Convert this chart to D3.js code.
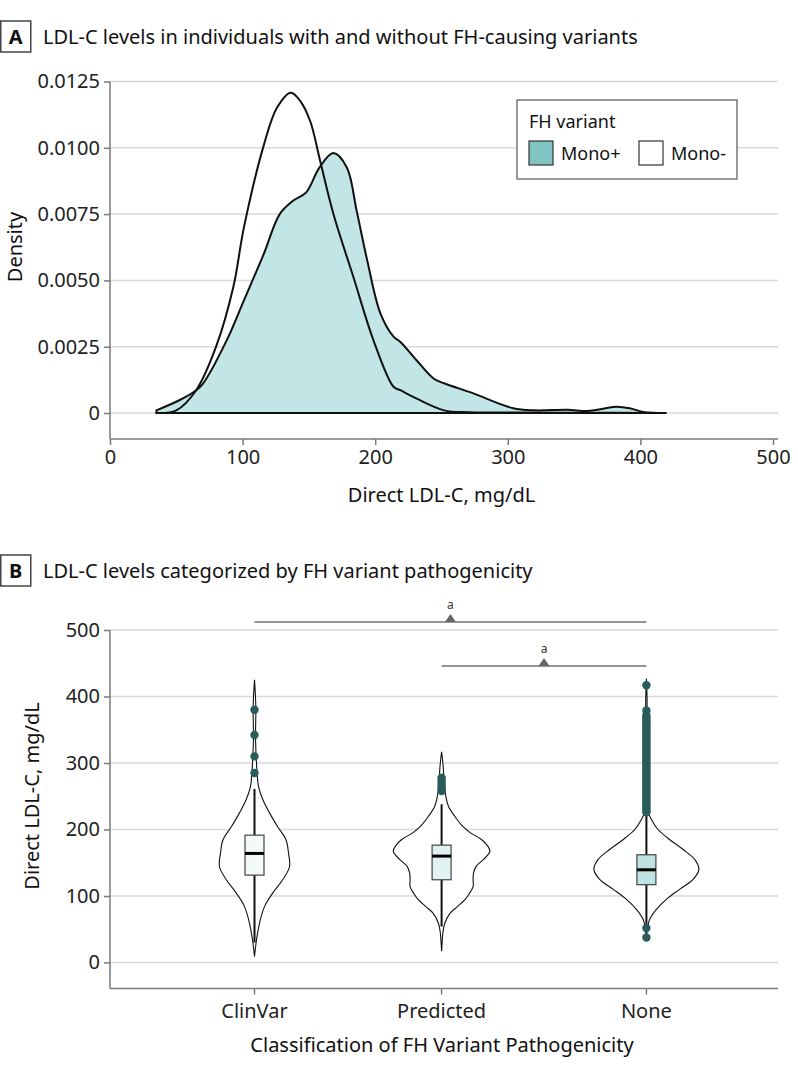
<!DOCTYPE html>
<html>
<head>
<meta charset="utf-8">
<script src="https://cdn.jsdelivr.net/npm/d3@7"></script>
<style>
  html, body { margin: 0; padding: 0; background: #fff; }
  svg { display: block; font-family: "Noto Sans", sans-serif; }
</style>
</head>
<body>
<svg id="chart" width="798" height="1074"></svg>
<script>
// ---------------- DATA ----------------
// Panel A: density curves (Direct LDL-C mg/dL, density)
const monoPlusX = [35, 53, 65, 70, 88, 101, 116, 128, 138, 148, 158, 168.5, 178.6, 186, 194, 204, 214, 219, 231, 244, 252, 274, 304, 320, 345, 360, 372, 382, 392, 402, 419];
const monoPlusD = [0.0001, 0.0005, 0.00086, 0.0011, 0.00274, 0.00425, 0.0060, 0.0075, 0.0080, 0.00832, 0.00926, 0.0098, 0.00926, 0.00763, 0.00575, 0.00375, 0.00287, 0.00268, 0.0020, 0.0013, 0.00112, 0.00074, 0.00018, 0.0001, 0.00012, 0.00008, 0.00016, 0.00024, 0.00018, 0.00004, 0];
const monoMinusX = [35, 50, 65, 80, 93, 101, 116, 126, 136.4, 143.4, 151, 158.5, 168.5, 183.6, 198.7, 213.8, 219, 231, 252, 270, 300, 350, 419];
const monoMinusD = [0, 0.0001, 0.00086, 0.0025, 0.00475, 0.0070, 0.0101, 0.01152, 0.01208, 0.01177, 0.0110, 0.0095, 0.0075, 0.00512, 0.00274, 0.00099, 0.00086, 0.00055, 0.0001, 0.00003, 0.00002, 0.00001, 0];
const densityTicks = [0, 0.0025, 0.005, 0.0075, 0.01, 0.0125];
const densityTickLabels = ["0", "0.0025", "0.0050", "0.0075", "0.0100", "0.0125"];
const ldlTicksA = [0, 100, 200, 300, 400, 500];
const legendTitle = "FH variant";
const legendLabels = ["Mono+", "Mono-"];

// Panel B: violins
const categories = ["ClinVar", "Predicted", "None"];
// violin profiles: [LDL-C value, relative density]
const violinClinVar = [[425,0],[385,0.025],[335,0.02],[285,0.05],[265,0.076],[245,0.158],[225,0.286],[204.5,0.438],[184.5,0.60],[164.5,0.648],[144,0.667],[124,0.533],[104,0.343],[84,0.19],[59,0.095],[34,0.038],[9,0]];
const violinPredicted = [[317,0],[295,0.03],[270,0.05],[250,0.08],[235,0.13],[220,0.25],[205,0.40],[195,0.55],[185,0.76],[175,0.88],[167,0.92],[155,0.80],[145,0.66],[135,0.61],[125,0.60],[114,0.60],[104,0.53],[94,0.44],[84,0.30],[74,0.16],[59,0.06],[45,0.025],[30,0.01],[17,0]];
const violinNone = [[427,0],[400,0.012],[300,0.015],[240,0.02],[225,0.04],[215,0.095],[200,0.22],[185,0.44],[170,0.70],[155,0.92],[140,1.0],[125,0.89],[110,0.63],[95,0.38],[80,0.19],[65,0.063],[55,0.03],[45,0.01],[34,0]];
// box stats: [whiskerLow, q1, median, q3, whiskerHigh]
const boxClinVar = [30, 131.4, 164, 191.5, 261];
const boxPredicted = [54, 124.4, 160, 176.5, 238];
const boxNone = [54, 117, 139.4, 162, 225];
const outClinVar = [380, 342, 310, 285];
const outPredicted = [258, 262, 266, 270, 274, 278];
const outNone = [417, 379, 372, 369, 366, 363, 360, 357, 354, 351, 348, 345, 342, 339, 336, 333, 330, 327, 324, 321, 318, 315, 312, 309, 306, 303, 300, 297, 294, 291, 288, 285, 282, 279, 276, 273, 270, 267, 264, 261, 258, 255, 252, 249, 246, 243, 240, 237, 234, 231, 228, 226, 51.7, 37.6];
const ldlTicksB = [0, 100, 200, 300, 400, 500];
const boxFills = ["#f2f9f9", "#e2f1f1", "#bfe3e3"];
// significance comparisons: [from, to]
const comparisons = [["ClinVar", "None"], ["Predicted", "None"]];
const compLevels = [512, 446];

// ---------------- DRAW ----------------
const svg = d3.select("#chart");
const FONT = 20;
const axisColor = "#7a7a7a";
const gridColor = "#d9d9d9";

function panelLabel(letter, y, text) {
  svg.append("rect").attr("x", 0.75).attr("y", y).attr("width", 30).attr("height", 31)
    .attr("fill", "#fff").attr("stroke", "#444").attr("stroke-width", 1.5);
  svg.append("text").attr("x", 15.75).attr("y", y + 23).attr("text-anchor", "middle")
    .attr("font-weight", "bold").attr("font-size", 20).attr("fill", "#111").text(letter);
  svg.append("text").attr("x", 43).attr("y", y + 23.3).attr("font-size", FONT)
    .attr("fill", "#111").text(text);
}

// ----- Panel A -----
panelLabel("A", 21, "LDL-C levels in individuals with and without FH-causing variants");

const xA = d3.scaleLinear().domain([0, 500]).range([110, 773]);
const yA = d3.scaleLinear().domain([0, 0.0125]).range([413, 81.5]);
const gridRight = 778;

svg.append("g").selectAll("line").data(densityTicks).join("line")
  .attr("x1", 110).attr("x2", gridRight)
  .attr("y1", d => yA(d)).attr("y2", d => yA(d))
  .attr("stroke", gridColor).attr("stroke-width", 1.5);

const yAxisA = d3.axisLeft(yA).tickValues(densityTicks)
  .tickFormat((d, i) => densityTickLabels[i]).tickSize(6).tickPadding(4);
const gyA = svg.append("g").attr("transform", "translate(110,0)").call(yAxisA);
gyA.select(".domain").remove();
gyA.append("line").attr("x1", 0).attr("x2", 0).attr("y1", yA(0.0125)).attr("y2", 439)
  .attr("stroke", axisColor).attr("stroke-width", 1.5);
const xAxisA = d3.axisBottom(xA).tickValues(ldlTicksA).tickSize(6).tickPadding(5);
const gxA = svg.append("g").attr("transform", "translate(0,439)").call(xAxisA);
gxA.select(".domain").remove();
gxA.append("line").attr("x1", 110).attr("x2", gridRight).attr("y1", 0).attr("y2", 0)
  .attr("stroke", axisColor).attr("stroke-width", 1.5);

[gyA, gxA].forEach(g => {
  g.selectAll(".tick line").attr("stroke", axisColor).attr("stroke-width", 1.5);
  g.selectAll(".tick text").attr("font-size", FONT).attr("fill", "#222")
    .attr("font-family", "Noto Sans, sans-serif");
});

svg.append("text").attr("transform", "translate(22,247) rotate(-90)")
  .attr("text-anchor", "middle").attr("font-size", FONT).attr("fill", "#111").text("Density");
svg.append("text").attr("x", 441.5).attr("y", 502).attr("text-anchor", "middle")
  .attr("font-size", FONT).attr("fill", "#111").text("Direct LDL-C, mg/dL");

const densArea = d3.area()
  .x(d => xA(d[0])).y0(yA(0)).y1(d => yA(d[1]))
  .curve(d3.curveCatmullRom.alpha(0.5));
const plusData = monoPlusX.map((x, i) => [x, monoPlusD[i]]);
const minusData = monoMinusX.map((x, i) => [x, monoMinusD[i]]);

svg.append("path").datum(plusData).attr("d", d => densArea(d) + "Z")
  .attr("fill", "#c2e6e5").attr("stroke", "#111").attr("stroke-width", 2)
  .attr("stroke-linejoin", "round");
svg.append("path").datum(minusData).attr("d", d => densArea(d) + "Z")
  .attr("fill", "none").attr("stroke", "#111").attr("stroke-width", 2)
  .attr("stroke-linejoin", "round");

// legend
const lg = svg.append("g");
lg.append("rect").attr("x", 517).attr("y", 100).attr("width", 220).attr("height", 79)
  .attr("fill", "#fff").attr("stroke", "#555").attr("stroke-width", 1.2);
lg.append("text").attr("x", 529).attr("y", 128).attr("font-size", 18).attr("fill", "#111").text(legendTitle);
const swFill = ["#80c3c2", "#ffffff"];
const swX = [529, 639];
legendLabels.forEach((lab, i) => {
  lg.append("rect").attr("x", swX[i]).attr("y", 141).attr("width", 24).attr("height", 24)
    .attr("fill", swFill[i]).attr("stroke", "#333").attr("stroke-width", 1.2);
  lg.append("text").attr("x", swX[i] + 32).attr("y", 160).attr("font-size", 18)
    .attr("fill", "#111").text(lab);
});

// ----- Panel B -----
panelLabel("B", 555, "LDL-C levels categorized by FH variant pathogenicity");

const yB = d3.scaleLinear().domain([0, 500]).range([962.5, 630]);
const xB = d3.scaleOrdinal().domain(categories).range([254.5, 441.6, 646.4]);
const wB = d3.scaleLinear().domain([0, 1]).range([0, 52.5]);

svg.append("g").selectAll("line").data(ldlTicksB).join("line")
  .attr("x1", 110).attr("x2", gridRight)
  .attr("y1", d => yB(d)).attr("y2", d => yB(d))
  .attr("stroke", gridColor).attr("stroke-width", 1.5);

const yAxisB = d3.axisLeft(yB).tickValues(ldlTicksB).tickSize(6).tickPadding(4);
const gyB = svg.append("g").attr("transform", "translate(110,0)").call(yAxisB);
gyB.select(".domain").remove();
gyB.append("line").attr("x1", 0).attr("x2", 0).attr("y1", yB(500)).attr("y2", 988.5)
  .attr("stroke", axisColor).attr("stroke-width", 1.5);

const gxB = svg.append("g").attr("transform", "translate(0,988.5)");
gxB.append("line").attr("x1", 110).attr("x2", gridRight).attr("y1", 0).attr("y2", 0)
  .attr("stroke", axisColor).attr("stroke-width", 1.5);
categories.forEach(c => {
  gxB.append("line").attr("x1", xB(c)).attr("x2", xB(c)).attr("y1", 0).attr("y2", 6)
    .attr("stroke", axisColor).attr("stroke-width", 1.5);
  gxB.append("text").attr("x", xB(c)).attr("y", 29.5).attr("text-anchor", "middle")
    .attr("font-size", FONT).attr("fill", "#222").text(c);
});
gyB.selectAll(".tick line").attr("stroke", axisColor).attr("stroke-width", 1.5);
gyB.selectAll(".tick text").attr("font-size", FONT).attr("fill", "#222")
  .attr("font-family", "Noto Sans, sans-serif");

svg.append("text").attr("transform", "translate(39,796) rotate(-90)")
  .attr("text-anchor", "middle").attr("font-size", FONT).attr("fill", "#111").text("Direct LDL-C, mg/dL");
svg.append("text").attr("x", 442).attr("y", 1052).attr("text-anchor", "middle")
  .attr("font-size", FONT).attr("fill", "#111").text("Classification of FH Variant Pathogenicity");

// significance bars
const sigColor = "#707070";
comparisons.forEach((cmp, i) => {
  const x1 = xB(cmp[0]), x2 = xB(cmp[1]);
  const yy = yB(compLevels[i]);
  const mx = (x1 + x2) / 2;
  svg.append("line").attr("x1", x1).attr("x2", x2).attr("y1", yy).attr("y2", yy)
    .attr("stroke", sigColor).attr("stroke-width", 1.5);
  svg.append("path").attr("d", `M${mx - 5.5},${yy} L${mx + 5.5},${yy} L${mx},${yy - 8} Z`)
    .attr("fill", "#666");
  svg.append("text").attr("x", mx).attr("y", yy - 13).attr("text-anchor", "middle")
    .attr("font-size", 12).attr("fill", "#333").text("a");
});

// violins
const violins = [violinClinVar, violinPredicted, violinNone];
const boxes = [boxClinVar, boxPredicted, boxNone];
const outs = [outClinVar, outPredicted, outNone];
categories.forEach((c, i) => {
  const cx = xB(c);
  const vArea = d3.area()
    .y(d => yB(d[0]))
    .x0(d => cx - wB(d[1]))
    .x1(d => cx + wB(d[1]))
    .curve(d3.curveCatmullRom.alpha(0.5));
  svg.append("path").datum(violins[i]).attr("d", vArea)
    .attr("fill", "#fff").attr("stroke", "#111").attr("stroke-width", 1.1);
  const b = boxes[i];
  const bw = 19;
  svg.append("line").attr("x1", cx).attr("x2", cx).attr("y1", yB(b[0])).attr("y2", yB(b[1]))
    .attr("stroke", "#111").attr("stroke-width", 2);
  svg.append("line").attr("x1", cx).attr("x2", cx).attr("y1", yB(b[3])).attr("y2", yB(b[4]))
    .attr("stroke", "#111").attr("stroke-width", 2);
  svg.append("rect").attr("x", cx - bw / 2).attr("y", yB(b[3]))
    .attr("width", bw).attr("height", yB(b[1]) - yB(b[3]))
    .attr("fill", boxFills[i]).attr("stroke", "#444").attr("stroke-width", 1.2);
  svg.append("line").attr("x1", cx - bw / 2).attr("x2", cx + bw / 2)
    .attr("y1", yB(b[2])).attr("y2", yB(b[2]))
    .attr("stroke", "#000").attr("stroke-width", 3);
  svg.append("g").selectAll("circle").data(outs[i]).join("circle")
    .attr("cx", cx).attr("cy", d => yB(d)).attr("r", 4.2)
    .attr("fill", "#2a5c5c");
});
</script>
</body>
</html>
